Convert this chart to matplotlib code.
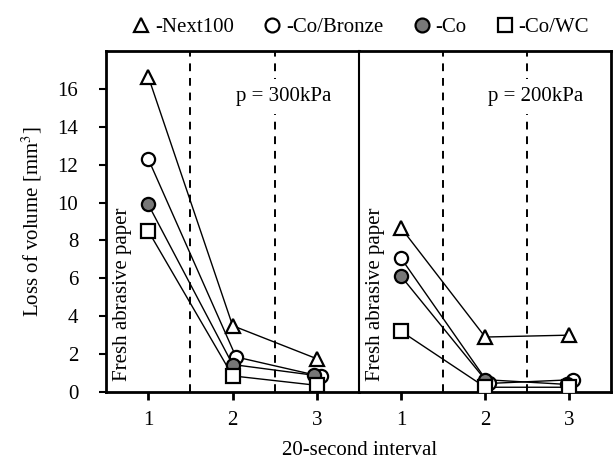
import numpy as np
import matplotlib.pyplot as plt

plt.rcParams['font.family'] = ['Liberation Serif', 'DejaVu Serif']
plt.rcParams['mathtext.fontset'] = 'stix'

# 20-second intervals
intervals = [1, 2, 3]

# loss of volume [mm3], p = 300kPa
next100_300 = [16.65, 3.5, 1.75]
bronze_300 = [12.3, 1.85, 0.82]
co_300 = [9.9, 1.45, 0.88]
wc_300 = [8.5, 0.85, 0.35]

# loss of volume [mm3], p = 200kPa
next100_200 = [8.65, 2.9, 3.0]
bronze_200 = [7.05, 0.45, 0.65]
co_200 = [6.1, 0.65, 0.4]
wc_200 = [3.2, 0.25, 0.25]

# slight horizontal offsets of some markers in the original
bronze_x = [1, 2.04, 3.05]
co_x = [1, 2.0, 2.97]

series = ['-Next100', '-Co/Bronze', '-Co', '-Co/WC']
markers = ['^', 'o', 'o', 's']
faces = ['white', 'white', '#777777', 'white']

fs = 15

fig = plt.figure(figsize=(6.13, 4.59), dpi=100)
ax1 = fig.add_axes([0.173, 0.146, 0.413, 0.743])
ax2 = fig.add_axes([0.586, 0.146, 0.411, 0.743])

panels = [
    (ax1, [next100_300, bronze_300, co_300, wc_300], 'p = 300kPa'),
    (ax2, [next100_200, bronze_200, co_200, wc_200], 'p = 200kPa'),
]

for ax, data, ptxt in panels:
    xs = [intervals, bronze_x, co_x, intervals]
    # draw lines first, then markers on top (Co/WC lowest)
    for i in [3, 2, 1, 0]:
        ax.plot(xs[i], data[i], color='black', lw=1.0, zorder=2)
    for i in [3, 2, 1, 0]:
        ax.plot(xs[i], data[i], ls='none', marker=markers[i], ms=9.5,
                mfc=faces[i], mec='black', mew=1.6, zorder=3 + i * 0.1)
    ax.axvline(1.5, color='black', ls=(0, (4, 3.5)), lw=1.4, zorder=1)
    ax.axvline(2.5, color='black', ls=(0, (4, 3.5)), lw=1.4, zorder=1)
    ax.set_xlim(0.5, 3.5)
    ax.set_ylim(0, 18)
    ax.set_xticks(intervals)
    ax.tick_params(axis='x', direction='out', length=6, width=2, labelsize=fs, pad=8)
    for s in ax.spines.values():
        s.set_linewidth(2)
    ax.text(0.69, 0.6, 'Fresh abrasive paper', rotation=90, fontsize=fs,
            ha='center', va='bottom')
    ax.text(2.6, 15.6, ptxt, fontsize=fs, ha='center', va='center', zorder=4,
            bbox=dict(facecolor='white', edgecolor='none', pad=6))

ax1.set_yticks(np.arange(0, 17, 2))
ax1.tick_params(axis='y', direction='out', length=5, width=1.5, labelsize=fs, pad=15)
ax1.set_ylabel('Loss of volume [mm$^3$]', fontsize=fs, labelpad=10)
ax2.set_yticks([])
ax2.spines['left'].set_linewidth(1.5)

fig.text(0.586, 0.008, '20-second interval', fontsize=fs, ha='center')

# legend row at the top
handles = []
for i in range(4):
    h, = ax1.plot([], [], ls='none', marker=markers[i], ms=10, mfc=faces[i],
                  mec='black', mew=1.6)
    handles.append(h)
fig.legend(handles, series, loc='center', bbox_to_anchor=(0.587, 0.941),
           ncol=4, frameon=False, fontsize=fs, handletextpad=0.15,
           columnspacing=1.35, handlelength=1.0, borderpad=0)

plt.savefig('out.png')
